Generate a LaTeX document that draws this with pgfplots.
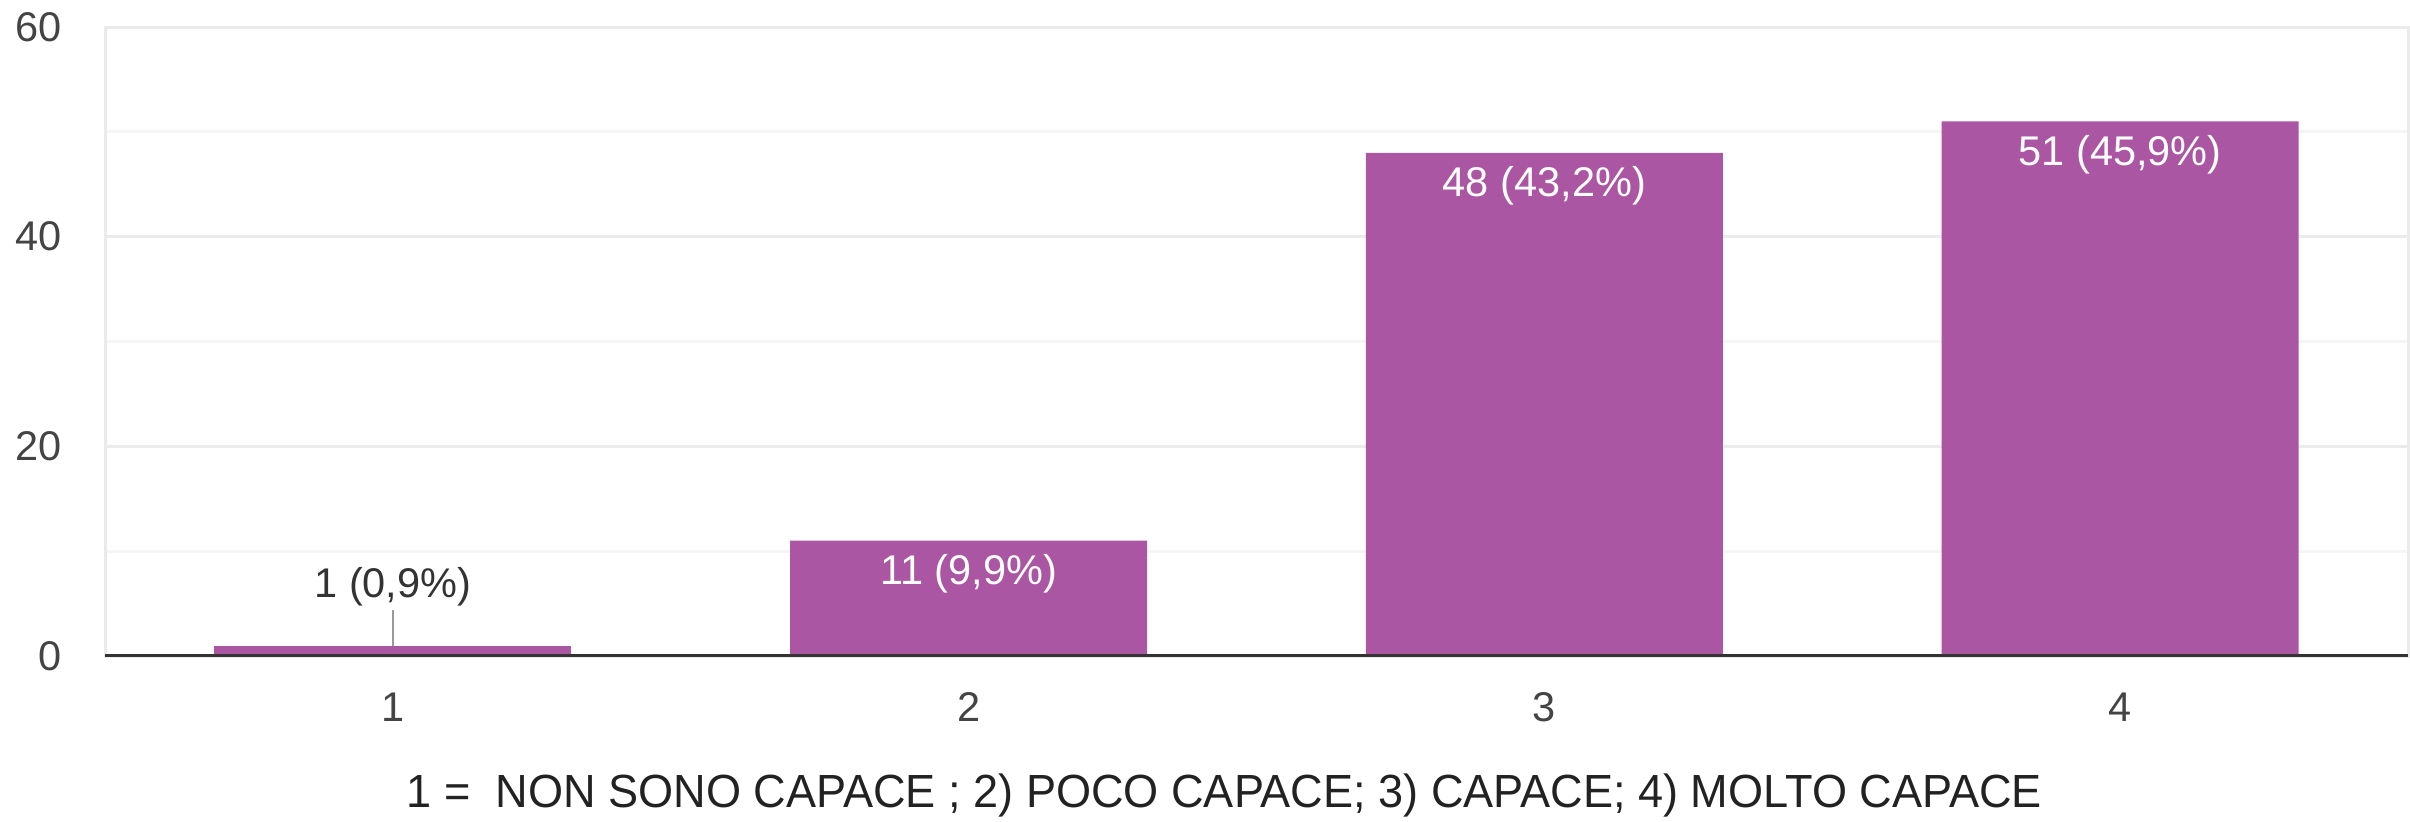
\documentclass[border=0pt]{standalone}
\usepackage{pgfplots}
\pgfplotsset{compat=1.18}
\usepackage{fontspec}
\setmainfont{Liberation Sans}
\newfontfamily\titlefont[FakeStretch=0.97]{Liberation Sans}
\definecolor{barc}{HTML}{AA56A2}
\definecolor{tickc}{HTML}{444444}
\definecolor{gridmaj}{HTML}{EBEBEB}
\definecolor{gridmin}{HTML}{F5F5F5}
\definecolor{basec}{HTML}{333333}
\definecolor{titlec}{HTML}{222222}
\definecolor{leadc}{HTML}{999999}
\begin{document}
\begin{tikzpicture}
\begin{axis}[
  scale only axis, width=690.9bp, height=188.7bp,
  xmin=0.5, xmax=4.5, ymin=0, ymax=60,
  xtick={1,2,3,4}, ytick={0,20,40,60}, minor ytick={10,30,50},
  ymajorgrids, yminorgrids,
  major grid style={gridmaj, line width=0.9bp},
  minor grid style={gridmin, line width=0.9bp},
  axis line style={gridmaj, line width=0.9bp},
  major tick length=0pt, minor tick length=0pt,
  tick style={draw=none},
  /pgf/number format/assume math mode=true,
  ticklabel style={font=\fontsize{12.5}{14}\selectfont, text=tickc},
  yticklabel style={anchor=east, inner sep=0pt, xshift=-12.9bp},
  xticklabel style={anchor=center, inner sep=0pt, yshift=-15.3bp},
  xlabel={1 =\ \ NON SONO CAPACE ; 2) POCO CAPACE; 3) CAPACE; 4) MOLTO CAPACE},
  xlabel style={at={(axis description cs:0.486,0)}, anchor=center, inner sep=0pt, yshift=-41.7bp, font=\titlefont\fontsize{14}{16}\selectfont, text=titlec},
  ybar, bar width=0.62, bar shift=0pt,
]
\addplot[fill=barc, draw=none, nodes near coords, point meta=explicit symbolic,
  every node near coord/.append style={anchor=center, yshift=-9.9bp, text=white, inner sep=0pt, font=\fontsize{12.5}{14}\selectfont}]
  coordinates {(2,11) [11 (9,9\%)] (3,48) [48 (43,2\%)] (4,51) [51 (45,9\%)]};
\addplot[fill=barc, draw=none, nodes near coords, point meta=explicit symbolic,
  every node near coord/.append style={anchor=center, yshift=17.6bp, text=basec, inner sep=0pt, font=\fontsize{12.5}{14}\selectfont}]
  coordinates {(1,1) [1 (0,9\%)]};
\draw[leadc, line width=0.6bp] (axis cs:1,1) -- (axis cs:1,4.39);
\draw[basec, line width=1.2bp] (rel axis cs:0,0) -- (rel axis cs:1,0);
\end{axis}
\pgfresetboundingbox
\path (-31.5bp,-49.8bp) rectangle (691.5bp,196.8bp);
\end{tikzpicture}
\end{document}
